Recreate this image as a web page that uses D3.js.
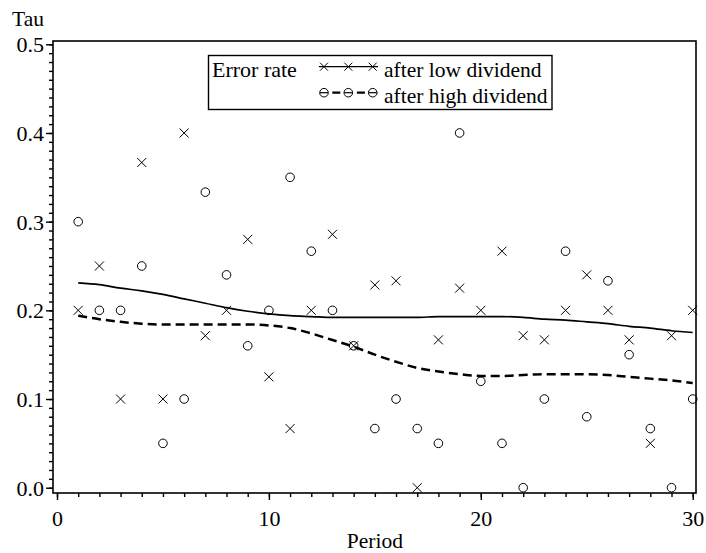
<!DOCTYPE html>
<html>
<head>
<meta charset="utf-8">
<script src="https://cdn.jsdelivr.net/npm/d3@7"></script>
<style>
  body { margin: 0; background: #fff; }
  svg text { font-family: "Times New Roman", "Liberation Serif", "DejaVu Serif", serif !important; fill: #000; }
</style>
</head>
<body>
<svg id="chart" width="706" height="553"></svg>
<script>
// periods 1..30
var periods = d3.range(1, 31);

// error rate after low dividend (crosses)
var lowRate = [0.2, 0.25, 0.1, 0.3667, 0.1, 0.4, 0.1714, 0.2, 0.28, 0.125,
               0.0667, 0.2, 0.2857, 0.16, 0.2286, 0.2333, 0.0, 0.1667, 0.225, 0.2,
               0.2667, 0.1714, 0.1667, 0.2, 0.24, 0.2, 0.1667, 0.05, 0.1714, 0.2];

// error rate after high dividend (circles)
var highRate = [0.3, 0.2, 0.2, 0.25, 0.05, 0.1, 0.3333, 0.24, 0.16, 0.2,
                0.35, 0.2667, 0.2, 0.16, 0.0667, 0.1, 0.0667, 0.05, 0.4, 0.12,
                0.05, 0.0, 0.1, 0.2667, 0.08, 0.2333, 0.15, 0.0667, 0.0, 0.1];

// smoothed curves
var lowSmooth = [0.231, 0.229, 0.225, 0.222, 0.218, 0.213, 0.208, 0.203, 0.199, 0.196,
                 0.194, 0.193, 0.192, 0.192, 0.192, 0.192, 0.192, 0.193, 0.193, 0.193,
                 0.193, 0.192, 0.190, 0.189, 0.187, 0.185, 0.182, 0.180, 0.177, 0.175];
var highSmooth = [0.194, 0.190, 0.187, 0.185, 0.184, 0.184, 0.184, 0.184, 0.184, 0.183,
                  0.180, 0.174, 0.1665, 0.159, 0.150, 0.142, 0.135, 0.131, 0.128, 0.126,
                  0.126, 0.127, 0.128, 0.128, 0.128, 0.127, 0.125, 0.123, 0.121, 0.118];

var xTicks = [0, 10, 20, 30];
var yTicks = [0, 0.1, 0.2, 0.3, 0.4, 0.5];

var svg = d3.select("#chart");

var frame = {left: 53, top: 41, right: 696, bottom: 493};

var x = d3.scaleLinear().domain([0, 30]).range([57, 692.7]);
var y = d3.scaleLinear().domain([0, 0.5]).range([487.7, 44.3]);

// frame
svg.append("rect")
    .attr("x", frame.left).attr("y", frame.top)
    .attr("width", frame.right - frame.left)
    .attr("height", frame.bottom - frame.top)
    .attr("fill", "none").attr("stroke", "#000").attr("stroke-width", 1.6);

// y axis: minor every 0.01, major every 0.1
var yAxisMinor = d3.axisLeft(y).tickValues(d3.range(0, 51).map(function(d) { return d / 100; }))
    .tickSize(4).tickFormat("");
svg.append("g").attr("transform", "translate(" + frame.left + ",0)").call(yAxisMinor)
    .call(function(g) { g.select(".domain").remove(); });

var yAxis = d3.axisLeft(y).tickValues(yTicks).tickSize(7).tickPadding(2)
    .tickFormat(d3.format(".1f"));
svg.append("g").attr("transform", "translate(" + frame.left + ",0)").call(yAxis)
    .call(function(g) { g.select(".domain").remove(); })
    .selectAll("text").attr("font-size", 22).attr("dy", "0.34em");

// x axis: minor every period
var xAxisMinor = d3.axisBottom(x).tickValues(d3.range(0, 31)).tickSize(4).tickFormat("");
svg.append("g").attr("transform", "translate(0," + frame.bottom + ")").call(xAxisMinor)
    .call(function(g) { g.select(".domain").remove(); });

var xAxis = d3.axisBottom(x).tickValues(xTicks).tickSize(7).tickPadding(10);
svg.append("g").attr("transform", "translate(0," + frame.bottom + ")").call(xAxis)
    .call(function(g) { g.select(".domain").remove(); })
    .selectAll("text").attr("font-size", 22);

svg.selectAll("g").attr("font-family", null);
svg.selectAll(".tick line").attr("stroke", "#000").attr("stroke-width", 1.4);

// titles
svg.append("text").attr("x", 12).attr("y", 26).attr("font-size", 21.5).text("Tau");
svg.append("text").attr("x", (x(0) + x(30)) / 2).attr("y", 548)
    .attr("text-anchor", "middle").attr("font-size", 21.5).text("Period");

// smooth lines
var line = d3.line().x(function(d, i) { return x(periods[i]); })
    .y(function(d) { return y(d); }).curve(d3.curveMonotoneX);

svg.append("path").datum(lowSmooth).attr("d", line)
    .attr("fill", "none").attr("stroke", "#000").attr("stroke-width", 1.7);
svg.append("path").datum(highSmooth).attr("d", line)
    .attr("fill", "none").attr("stroke", "#000").attr("stroke-width", 2.5)
    .attr("stroke-dasharray", "9,5");

// markers
var crossPath = "M-4.5,-4.5L4.5,4.5M-4.5,4.5L4.5,-4.5";

svg.append("g").selectAll("path").data(lowRate).join("path")
    .attr("transform", function(d, i) { return "translate(" + x(periods[i]) + "," + y(d) + ")"; })
    .attr("d", crossPath).attr("fill", "none").attr("stroke", "#000").attr("stroke-width", 1);

svg.append("g").selectAll("circle").data(highRate).join("circle")
    .attr("cx", function(d, i) { return x(periods[i]); })
    .attr("cy", function(d) { return y(d); })
    .attr("r", 4.3).attr("fill", "none").attr("stroke", "#000").attr("stroke-width", 1);

// legend
var legend = svg.append("g");
legend.append("rect").attr("x", 208.5).attr("y", 55.5).attr("width", 343.5).attr("height", 54)
    .attr("fill", "#fff").attr("stroke", "#000").attr("stroke-width", 1.4);
legend.append("text").attr("x", 212).attr("y", 76.5).attr("font-size", 22).text("Error rate");

var legendX = [324, 348.3, 372.7];

legend.append("line").attr("x1", 319).attr("x2", 378).attr("y1", 66.7).attr("y2", 66.7)
    .attr("stroke", "#000").attr("stroke-width", 1.2);
legend.selectAll(".lx").data(legendX).join("path").attr("class", "lx")
    .attr("transform", function(d) { return "translate(" + d + ",66.7)"; })
    .attr("d", "M-4,-4L4,4M-4,4L4,-4").attr("fill", "none").attr("stroke", "#000").attr("stroke-width", 1);
legend.append("text").attr("x", 384).attr("y", 76.5).attr("font-size", 21.5).text("after low dividend");

legend.append("line").attr("x1", 319).attr("x2", 378).attr("y1", 92.7).attr("y2", 92.7)
    .attr("stroke", "#000").attr("stroke-width", 2.2)
    .attr("stroke-dasharray", "8,4.3").attr("stroke-dashoffset", -1);
legend.selectAll(".lo").data(legendX).join("circle").attr("class", "lo")
    .attr("cx", function(d) { return d; }).attr("cy", 92.7).attr("r", 4.3)
    .attr("fill", "#fff").attr("stroke", "#000").attr("stroke-width", 1);
legend.selectAll(".lm").data(legendX).join("line").attr("class", "lm")
    .attr("x1", function(d) { return d - 4; }).attr("x2", function(d) { return d + 4; })
    .attr("y1", 92.7).attr("y2", 92.7).attr("stroke", "#000").attr("stroke-width", 1.2);
legend.append("text").attr("x", 384).attr("y", 102.5).attr("font-size", 21.5).text("after high dividend");
</script>
</body>
</html>
